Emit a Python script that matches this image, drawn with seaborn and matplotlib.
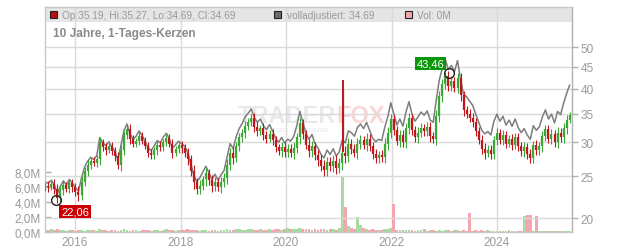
import numpy as np
import pandas as pd
import matplotlib
matplotlib.use("Agg")
import matplotlib.pyplot as plt
from matplotlib.patches import Rectangle
from matplotlib.ticker import NullLocator, FixedLocator
import seaborn as sns

sns.set_style("white")
plt.rcParams["font.family"] = ["Liberation Sans", "DejaVu Sans"]

# ---------------- data ----------------
start_date = "2015-06-08"
step_days = 21
first_open = 23.6

close = [
    23.8, 23.6, 24.0, 23.4, 22.3, 23.2, 23.9, 23.4, 24.1, 23.6,
    23.0, 22.6, 24.3, 25.8, 26.6, 27.2, 26.9, 27.4, 30.0, 29.2,
    28.8, 29.4, 28.6, 27.9, 26.6, 28.8, 31.2, 32.3, 30.6, 29.8,
    30.2, 31.1, 30.3, 29.4, 28.4, 28.0, 28.8, 29.6, 29.2, 30.1,
    30.7, 29.8, 28.4, 28.9, 29.5, 29.1, 28.3, 27.4, 25.8, 24.2,
    23.4, 23.8, 24.6, 25.4, 24.5, 23.7, 24.3, 23.6, 24.2, 24.8,
    26.6, 28.4, 27.6, 29.4, 30.8, 31.6, 32.8, 33.4, 34.2, 32.6,
    31.8, 32.4, 31.2, 30.6, 31.4, 30.4, 29.2, 28.6, 29.3, 28.5,
    29.0, 28.4, 29.1, 30.8, 33.2, 31.4, 29.6, 28.6, 29.4, 28.0,
    27.3, 26.4, 25.9, 27.0, 26.4, 27.2, 26.2, 26.8, 28.4, 27.9,
    29.8, 29.0, 28.4, 29.8, 30.4, 29.6, 30.6, 29.4, 28.2, 27.6,
    28.0, 27.8, 29.8, 31.6, 34.0, 32.0, 30.2, 31.2, 30.0, 32.4,
    34.2, 32.0, 30.8, 31.6, 32.4, 31.8, 32.6, 31.0, 30.6, 34.6,
    38.4, 41.0, 42.8, 40.6, 41.6, 40.2, 42.4, 38.6, 35.6, 35.0,
    34.2, 33.4, 31.8, 30.4, 29.0, 28.4, 28.8, 28.2, 30.4, 31.6,
    30.4, 31.2, 29.8, 30.6, 29.6, 30.8, 29.4, 28.6, 29.2, 28.2,
    27.6, 29.6, 28.8, 29.4, 31.0, 32.2, 30.6, 31.4, 30.0, 31.6,
    30.8, 32.4, 33.8, 34.69,
]

# candle wick length beyond the body (price units)
wick = [
    0.5, 0.6, 0.4, 0.7, 0.6, 0.5, 0.6, 0.4, 0.5, 0.6,
    0.5, 0.7, 0.6, 0.5, 0.7, 0.6, 0.5, 0.6, 0.8, 0.6,
    0.7, 0.5, 0.6, 0.7, 0.6, 0.8, 0.7, 0.6, 0.8, 0.6,
    0.5, 0.7, 0.6, 0.5, 0.7, 0.6, 0.5, 0.7, 0.6, 0.5,
    0.7, 0.6, 0.8, 0.5, 0.6, 0.7, 0.6, 0.8, 0.7, 0.8,
    0.6, 0.7, 0.5, 0.8, 0.6, 0.7, 0.6, 0.5, 0.7, 0.6,
    0.8, 0.7, 0.9, 0.6, 0.8, 0.7, 0.9, 0.8, 0.7, 0.9,
    0.8, 0.6, 0.8, 0.7, 0.6, 0.8, 0.7, 0.6, 0.8, 0.7,
    0.8, 0.7, 0.9, 0.8, 1.0, 0.8, 0.7, 0.9, 0.8, 0.7,
    0.8, 0.7, 0.9, 0.8, 0.7, 0.8, 0.9, 0.8, 0.9, 1.0,
    0.9, 0.8, 0.7, 0.9, 0.8, 0.7, 0.9, 0.8, 0.7, 0.8,
    0.7, 0.8, 0.9, 1.0, 0.9, 0.8, 0.7, 0.9, 0.8, 0.9,
    1.0, 0.8, 0.7, 0.9, 0.8, 0.7, 0.8, 0.9, 0.7, 1.0,
    1.1, 1.2, 1.0, 1.1, 1.2, 1.0, 1.1, 1.2, 1.0, 0.9,
    0.8, 0.9, 0.8, 0.7, 0.8, 0.9, 0.7, 0.8, 0.7, 0.8,
    0.7, 0.8, 0.7, 0.6, 0.8, 0.7, 0.8, 0.7, 0.8, 0.7,
    0.8, 0.7, 0.8, 0.7, 0.9, 0.8, 0.7, 0.8, 0.7, 0.9,
    0.8, 0.9, 1.0, 0.6,
]

adjusted = [
    24.3, 24.1, 24.5, 23.9, 22.8, 23.7, 24.4, 23.9, 24.6, 24.1,
    23.5, 23.1, 24.8, 26.3, 27.1, 27.7, 27.4, 27.9, 30.8, 29.9,
    29.5, 30.1, 29.3, 28.6, 27.3, 29.5, 32.0, 33.1, 31.4, 30.5,
    31.0, 31.9, 31.1, 30.1, 29.1, 28.7, 29.5, 30.3, 29.9, 30.9,
    31.5, 30.5, 29.1, 29.6, 30.2, 29.8, 29.4, 28.5, 26.8, 25.2,
    24.3, 24.8, 25.6, 26.4, 25.5, 24.6, 25.3, 24.5, 25.2, 25.8,
    27.7, 29.8, 29.0, 30.9, 32.3, 33.2, 34.4, 35.1, 35.9, 34.2,
    33.4, 34.0, 32.8, 32.1, 33.0, 31.9, 30.7, 30.0, 30.8, 29.9,
    30.5, 30.2, 31.0, 32.8, 35.4, 33.4, 31.5, 30.5, 31.3, 29.8,
    29.1, 28.1, 27.6, 28.8, 28.1, 29.0, 27.9, 28.5, 30.4, 29.9,
    31.9, 31.6, 31.0, 32.5, 33.1, 32.3, 33.4, 32.0, 30.7, 30.1,
    30.5, 30.3, 32.5, 34.4, 37.1, 34.9, 32.9, 34.0, 32.7, 35.3,
    37.3, 34.9, 33.6, 34.4, 35.3, 34.7, 35.5, 33.8, 33.4, 37.7,
    41.9, 44.7, 46.7, 44.3, 45.3, 43.8, 46.5, 42.1, 38.8, 38.3,
    37.4, 36.6, 34.9, 33.4, 32.0, 31.4, 31.8, 31.2, 33.6, 34.9,
    33.6, 34.5, 32.9, 33.8, 32.7, 34.0, 32.5, 31.6, 32.3, 31.2,
    30.5, 32.8, 32.0, 32.6, 34.4, 35.7, 34.0, 34.9, 33.3, 35.4,
    34.8, 37.0, 39.0, 40.8,
]

volume_m = [
    0.3, 0.25, 0.4, 0.3, 0.45, 0.3, 0.25, 0.2, 0.3, 0.25,
    0.2, 0.3, 0.25, 0.2, 0.3, 0.25, 0.3, 0.2, 0.45, 0.3,
    0.25, 0.2, 0.3, 0.25, 0.2, 0.3, 0.35, 0.25, 0.2, 0.3,
    0.25, 0.2, 0.3, 0.25, 0.3, 0.2, 0.25, 0.3, 0.2, 0.25,
    0.45, 0.3, 0.25, 0.2, 0.3, 0.25, 0.3, 0.35, 0.3, 0.25,
    0.3, 0.2, 0.25, 0.3, 0.2, 0.25, 0.3, 0.2, 0.25, 0.3,
    0.35, 0.3, 0.25, 0.35, 0.4, 0.3, 0.25, 0.35, 0.45, 0.3,
    0.3, 0.4, 0.25, 0.3, 0.35, 0.3, 0.4, 0.35, 0.3, 0.45,
    0.5, 0.35, 0.4, 0.45, 0.55, 0.4, 0.35, 0.4, 0.3, 0.35,
    0.3, 0.4, 0.35, 0.3, 0.4, 0.35, 0.3, 0.6, 7.3, 3.4,
    0.8, 0.5, 0.4, 2.0, 0.9, 0.5, 0.4, 0.3, 0.35, 0.3,
    0.25, 0.3, 0.35, 0.4, 0.5, 3.7, 0.3, 0.25, 0.3, 0.25,
    0.3, 0.25, 0.2, 0.3, 0.25, 0.35, 0.2, 0.25, 0.3, 0.2,
    0.25, 0.2, 0.3, 0.25, 0.2, 0.3, 0.25, 0.2, 0.25, 0.2,
    2.6, 0.2, 0.25, 0.2, 0.3, 0.2, 0.25, 0.2, 0.15, 0.2,
    0.2, 0.15, 0.2, 0.25, 0.2, 0.15, 0.2, 0.2, 2.2, 2.3,
    2.3, 0.2, 2.2, 0.2, 0.15, 0.2, 0.15, 0.2, 0.15, 0.2,
    0.2, 0.15, 0.2, 0.2,
]

spike_date = "2021-01-28"
spike_hi, spike_lo = 42.0, 28.5
spike_adj_hi, spike_adj_lo = 40.0, 30.0

hi_date, hi_val, hi_label = "2023-02-02", 43.46, "43,46"
lo_date, lo_val, lo_label = "2015-08-22", 22.06, "22,06"

price_ticks = [20, 25, 30, 35, 40, 45, 50]
vol_ticks = [0, 2, 4, 6, 8]
vol_tick_labels = ["0,0M", "2,0M", "4,0M", "6,0M", "8,0M"]
year_ticks = [2016, 2018, 2020, 2022, 2024]

legend_ohlc = "Op:35.19, Hi:35.27, Lo:34.69, Cl:34.69"
legend_adj = "volladjustiert: 34.69"
legend_vol = "Vol: 0M"
subtitle = "10 Jahre, 1-Tages-Kerzen"

# ---------------- figure ----------------
dates = pd.date_range(start_date, periods=len(close), freq=f"{step_days}D")
opens = [first_open] + close[:-1]
up = [c >= o for o, c in zip(opens, close)]
body_lo = [min(o, c) for o, c in zip(opens, close)]
body_hi = [max(o, c) for o, c in zip(opens, close)]
lows = [b - w for b, w in zip(body_lo, wick)]
highs = [b + w for b, w in zip(body_hi, wick)]

W, H = 632, 253
L, R, B, T = 45, 572, 233, 8
fig = plt.figure(figsize=(W / 100, H / 100), dpi=100)
vax = fig.add_axes([L / W, (H - B) / H, (R - L) / W, (B - T) / H])
ax = vax.twinx()

def fx(x):
    return x / W

def fy(y):
    return 1 - y / H

RED = "#c0161c"
GREEN = "#3aa832"
GRID = "#dadada"
TXT = "#9a9a9a"

vax.set_xlim(pd.Timestamp("2015-06-07"), pd.Timestamp("2025-06-04"))

# legend bar background
vax.add_patch(Rectangle((0, 1 - 15 / (B - T)), 1, 15 / (B - T), transform=vax.transAxes,
                        facecolor="#e5e5e5", edgecolor="none", zorder=0.5))

# vertical year grid
for yr in year_ticks:
    vax.axvline(pd.Timestamp(f"{yr}-01-01"), color=GRID, lw=1, zorder=1)

# watermark
vax.text(fx(336), fy(117), "TRADER", transform=fig.transFigure, ha="right", va="center",
         fontsize=17, fontweight="bold", color="#e9e9e9", zorder=0.6)
vax.text(fx(336), fy(117), "FOX", transform=fig.transFigure, ha="left", va="center",
         fontsize=17, fontweight="bold", color="#f9d6d6", zorder=0.6)
vax.text(fx(298), fy(131), "STOCK  SCREENING", transform=fig.transFigure, ha="center",
         va="center", fontsize=4.5, color="#e6e6e6", zorder=0.6)

# volume bars
vcols = ["#a8dba1" if u else "#f2a7af" for u in up]
vax.bar(dates, volume_m, width=19, color=vcols, linewidth=0, zorder=2)
vax.set_ylim(0, 30)
vax.yaxis.set_major_locator(FixedLocator(vol_ticks))
vax.set_yticklabels(vol_tick_labels)
vax.tick_params(axis="y", direction="in", length=4, width=1, color="#b0b0b0",
                labelcolor=TXT, labelsize=8.5, pad=3, left=True, labelleft=True)
vax.set_xticks([pd.Timestamp(f"{yr}-01-01") for yr in year_ticks])
vax.set_xticklabels([str(y) for y in year_ticks])
vax.tick_params(axis="x", length=0, labelcolor=TXT, labelsize=8.5, pad=3)
for s in vax.spines.values():
    s.set_visible(False)

# price axis
ax.set_yscale("log")
ax.set_ylim(18.56, 61.95)
ax.yaxis.set_major_locator(FixedLocator(price_ticks))
ax.yaxis.set_minor_locator(NullLocator())
ax.set_yticklabels([str(p) for p in price_ticks])
ax.tick_params(axis="y", direction="out", length=4, width=1, color="#b0b0b0",
               labelcolor=TXT, labelsize=8.5, pad=2, right=True, labelright=True)
for p in price_ticks:
    ax.axhline(p, color=GRID, lw=1, zorder=1)
for name, s in ax.spines.items():
    s.set_color("#c8c8c8")
    s.set_linewidth(1)
ax.spines["right"].set_color("#b0b0b0")

# adjusted line (seaborn)
sns.lineplot(x=dates, y=adjusted, ax=ax, color="#7d7d7d", linewidth=1.1, zorder=2.5)
ax.vlines(pd.Timestamp(spike_date), spike_adj_lo, spike_adj_hi, color="#7d7d7d", lw=1.0, zorder=2.5)

# candles
ccols = [GREEN if u else RED for u in up]
ax.vlines(dates, lows, highs, colors=ccols, lw=0.8, zorder=3)
ax.vlines(dates, body_lo, body_hi, colors=ccols, lw=1.6, zorder=3)
ax.vlines(pd.Timestamp(spike_date), spike_lo, spike_hi, color=RED, lw=1.4, zorder=3)

# high / low markers
ax.plot(pd.Timestamp(hi_date), hi_val, "o", mfc="none", mec="#222222", ms=7, mew=1, zorder=5)
ax.plot(pd.Timestamp(lo_date), lo_val, "o", mfc="none", mec="#222222", ms=7, mew=1, zorder=5)
ax.annotate(hi_label, xy=(pd.Timestamp(hi_date), hi_val), xytext=(-18, 10),
            textcoords="offset pixels", ha="center", va="center", color="white", fontsize=8,
            bbox=dict(boxstyle="square,pad=0.15", fc="#0a960a", ec="none"), zorder=6)
ax.annotate(lo_label, xy=(pd.Timestamp(lo_date), lo_val), xytext=(19, -12),
            textcoords="offset pixels", ha="center", va="center", color="white", fontsize=8,
            bbox=dict(boxstyle="square,pad=0.15", fc="#cc0000", ec="none"), zorder=6)
ax.set_xlabel("")
ax.set_ylabel("")
vax.set_ylabel("")

# legend bar content
def square(x, color):
    fig.patches.append(Rectangle((fx(x), fy(19)), 7 / W, 7 / H, transform=fig.transFigure,
                                 facecolor=color, edgecolor="#222222", lw=0.8, zorder=10))

square(50, "#b80f0f")
fig.text(fx(62), fy(16), legend_ohlc, fontsize=7.3, color=TXT, va="center", ha="left")
square(274, "#6a6a6a")
fig.text(fx(287), fy(16), legend_adj, fontsize=7.3, color=TXT, va="center", ha="left")
square(405, "#f2a7af")
fig.text(fx(417), fy(16), legend_vol, fontsize=7.3, color=TXT, va="center", ha="left")

fig.text(fx(53), fy(33.5), subtitle, fontsize=8.6, fontweight="bold", color="#8a8a8a",
         va="center", ha="left")

fig.savefig("out.png", dpi=100)
